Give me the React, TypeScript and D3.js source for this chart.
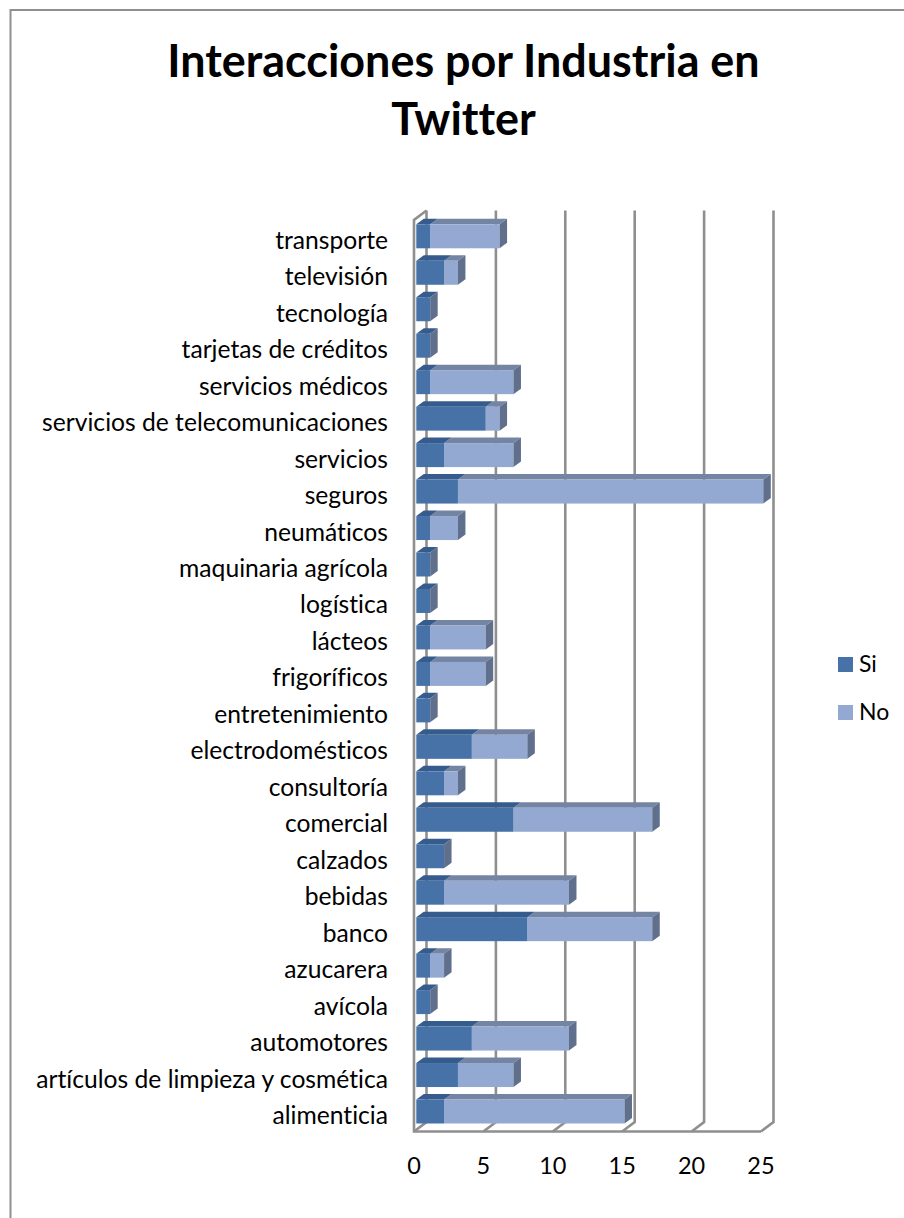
import React from "react";
import * as d3 from "d3";

// Interactions per industry, listed bottom-up as on the category axis.
const categories = [
  "alimenticia", "artículos de limpieza y cosmética", "automotores", "avícola", "azucarera",
  "banco", "bebidas", "calzados", "comercial", "consultoría", "electrodomésticos",
  "entretenimiento", "frigoríficos", "lácteos", "logística", "maquinaria agrícola",
  "neumáticos", "seguros", "servicios", "servicios de telecomunicaciones",
  "servicios médicos", "tarjetas de créditos", "tecnología", "televisión", "transporte",
];
const siValues = [2, 3, 4, 1, 1, 8, 2, 2, 7, 2, 4, 1, 1, 1, 1, 1, 1, 3, 2, 5, 1, 1, 1, 2, 1];
const noValues = [13, 4, 7, 0, 1, 9, 9, 0, 10, 1, 4, 0, 4, 4, 0, 0, 2, 22, 5, 1, 6, 0, 0, 1, 5];
const xTicks = [0, 5, 10, 15, 20, 25];
const titleLines = ["Interacciones por Industria en", "Twitter"];
const legendItems = ["Si", "No"];

const FONT = "Lato, Carlito, Calibri, sans-serif";
const GRID = "#8f8f8f";

const SI = { front: "#4672a8", top: "#355c8c", side: "#566f92" };
const NO = { front: "#94a9d1", top: "#7485a4", side: "#5f6f8c" };

const xFront = d3.scaleLinear().domain([0, 25]).range([414, 761]);
const yBand = d3.scalePoint<number>().domain(d3.range(categories.length)).range([1111.5, 236.3]);

// Oblique offsets of the wall behind the floor and of each bar's extrusion.
const WALL_DX = 12.5;
const WALL_DY = -9.5;
const BAR_DX = 7.5;
const BAR_DY = -5.5;
const BAR_SHIFT = 2.3;
const BAR_H = 24;
const TOP_FRONT = 220;
const FLOOR_FRONT = 1131.5;

const pts = (...p: [number, number][]) => p.map((q) => q.join(",")).join(" ");

function Box({ x0, x1, y, c }: { x0: number; x1: number; y: number; c: typeof SI }) {
  const t = y - BAR_H / 2;
  const b = y + BAR_H / 2;
  return (
    <g>
      <polygon points={pts([x0, t], [x1, t], [x1 + BAR_DX, t + BAR_DY], [x0 + BAR_DX, t + BAR_DY])} fill={c.top} />
      <rect x={x0} y={t} width={x1 - x0} height={b - t} fill={c.front} />
    </g>
  );
}

export default function App() {
  const bars = categories.map((_, i) => {
    const y = yBand(i) as number;
    const x0 = xFront(0) + BAR_SHIFT;
    const xs = xFront(siValues[i]) + BAR_SHIFT;
    const xe = xFront(siValues[i] + noValues[i]) + BAR_SHIFT;
    return { i, y, x0, xs, xe };
  });
  return (
    <svg
      width={904}
      height={1218}
      style={{ position: "absolute", left: 0, top: 0, display: "block", fontVariantLigatures: "none" }}
      fontFamily={FONT}
    >
      <rect width={904} height={1218} fill="#fff" />
      <polyline points={pts([10.5, 1218], [10.5, 10], [904, 10])} fill="none" stroke={GRID} strokeWidth={2} />

      {titleLines.map((line, i) => (
        <text key={line} x={463.5} y={76.5 + i * 58} textAnchor="middle" fontSize={44.9} fontWeight={700} fill="#000">
          {line}
        </text>
      ))}

      {/* Wall gridlines with their floor diagonals, plus the front edge of the plot */}
      {xTicks.map((t) => (
        <polyline
          key={t}
          points={pts(
            [xFront(t), FLOOR_FRONT],
            [xFront(t) + WALL_DX, FLOOR_FRONT + WALL_DY],
            [xFront(t) + WALL_DX, TOP_FRONT + WALL_DY],
          )}
          fill="none"
          stroke={GRID}
          strokeWidth={2.6}
        />
      ))}
      <polyline
        points={pts(
          [xFront(0) + WALL_DX, TOP_FRONT + WALL_DY],
          [xFront(0), TOP_FRONT],
          [xFront(0), FLOOR_FRONT],
          [xFront(25), FLOOR_FRONT],
        )}
        fill="none"
        stroke={GRID}
        strokeWidth={2.6}
      />

      {bars.map(({ i, y, x0, xs, xe }) => (
        <g key={i}>
          {noValues[i] > 0 && <Box x0={xs} x1={xe} y={y} c={NO} />}
          <Box x0={x0} x1={xs} y={y} c={SI} />
          <polygon
            points={pts(
              [xe, y - BAR_H / 2],
              [xe + BAR_DX, y - BAR_H / 2 + BAR_DY],
              [xe + BAR_DX, y + BAR_H / 2 + BAR_DY],
              [xe, y + BAR_H / 2],
            )}
            fill={NO.side}
          />
          <text x={388} y={y + 12.5} textAnchor="end" fontSize={24.65} fill="#000">
            {categories[i]}
          </text>
        </g>
      ))}

      {xTicks.map((t) => (
        <text key={t} x={xFront(t)} y={1174} textAnchor="middle" fontSize={23.5} fill="#000">
          {t}
        </text>
      ))}

      {legendItems.map((name, i) => (
        <g key={name}>
          <rect x={838} y={657 + i * 48} width={15} height={15} fill={i === 0 ? SI.front : NO.front} />
          <text x={859} y={672 + i * 48} fontSize={23} fill="#000">
            {name}
          </text>
        </g>
      ))}
    </svg>
  );
}
